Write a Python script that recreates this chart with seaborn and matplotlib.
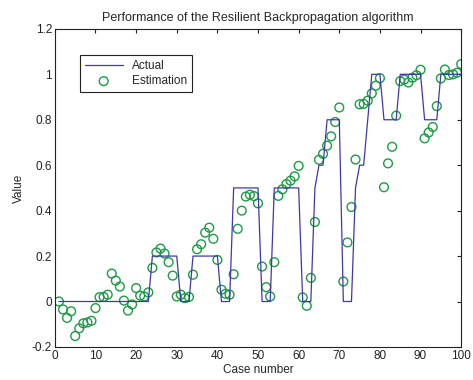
import numpy as np
import pandas as pd
import seaborn as sns
import matplotlib
matplotlib.use("Agg")
import matplotlib.pyplot as plt

# case numbers 1..100
case = list(range(1, 101))

# actual (target) values, step pattern
actual = ([0.0] * 23 + [0.2] * 7 + [0.0] * 3 + [0.2] * 7 + [0.0] * 3 +
          [0.5] * 7 + [0.0] * 3 + [0.5] * 7 + [0.0] * 3 +
          [0.5, 0.6, 0.6, 0.8, 0.8, 0.8, 0.8, 0.0, 0.0, 0.0,
           0.5, 0.6, 0.6, 0.8, 1.0, 1.0, 1.0, 0.8, 0.8, 0.8,
           0.8, 1.0, 1.0, 1.0, 1.0, 1.0, 1.0, 0.8, 0.8, 0.8,
           0.8, 1.0, 1.0, 1.0, 1.0, 1.0, 1.0])

# network estimations
estimation = [
    0.0, -0.035, -0.072, -0.043, -0.152, -0.118, -0.096, -0.092, -0.085, -0.029,
    0.019, 0.02, 0.03, 0.123, 0.092, 0.066, 0.004, -0.04, -0.013, 0.059,
    0.026, 0.022, 0.04, 0.148, 0.216, 0.233, 0.211, 0.173, 0.114, 0.022,
    0.03, 0.015, 0.02, 0.118, 0.23, 0.252, 0.303, 0.325, 0.276, 0.183,
    0.052, 0.034, 0.03, 0.12, 0.32, 0.4, 0.462, 0.47, 0.464, 0.432,
    0.154, 0.063, 0.022, 0.173, 0.465, 0.494, 0.517, 0.532, 0.551, 0.597,
    0.018, -0.019, 0.104, 0.35, 0.624, 0.65, 0.686, 0.727, 0.79, 0.854,
    0.088, 0.26, 0.416, 0.625, 0.868, 0.87, 0.884, 0.916, 0.95, 0.983,
    0.503, 0.608, 0.681, 0.818, 0.97, 0.977, 0.964, 0.985, 0.996, 1.02,
    0.718, 0.744, 0.768, 0.86, 0.982, 1.021, 0.997, 1.0, 1.007, 1.045,
]

xticks = list(range(0, 101, 10))
yticks = [-0.2, 0, 0.2, 0.4, 0.6, 0.8, 1.0, 1.2]
ylabels = ["-0.2", "0", "0.2", "0.4", "0.6", "0.8", "1", "1.2"]

df = pd.DataFrame({"case": case, "actual": actual, "estimation": estimation})

sns.set_style("white")
plt.rcParams["font.family"] = ["Liberation Sans", "DejaVu Sans"]

fig, ax = plt.subplots(figsize=(4.73, 3.80), dpi=100)
fig.subplots_adjust(left=0.116, right=0.975, top=0.924, bottom=0.087)

sns.lineplot(data=df, x="case", y="actual", ax=ax, color="#3f38a8",
             linewidth=0.9, label="Actual")
sns.scatterplot(data=df, x="case", y="estimation", ax=ax, marker="o",
                color="#1e9b45", facecolors="none", edgecolor="#1e9b45",
                linewidth=1.0, s=40, label="Estimation")

ax.set_xlim(0, 100)
ax.set_ylim(-0.2, 1.2)
ax.set_xticks(xticks)
ax.set_yticks(yticks)
ax.set_yticklabels(ylabels)
ax.tick_params(direction="in", top=True, right=True, length=3, width=0.8,
               labelsize=8.5, colors="#222222", pad=2)
for sp in ax.spines.values():
    sp.set_color("#222222")
    sp.set_linewidth(0.8)

ax.set_xlabel("Case number", fontsize=8.5, labelpad=1.5)
ax.set_ylabel("Value", fontsize=8.5, labelpad=5)
ax.set_title("Performance of the Resilient Backpropagation algorithm",
             fontsize=9, pad=6)

leg = ax.legend(loc="upper left", bbox_to_anchor=(0.062, 0.918),
                borderaxespad=0, fancybox=False, framealpha=1,
                edgecolor="#222222", fontsize=8.5, handlelength=3.2,
                borderpad=0.4, labelspacing=0.3)
leg.get_frame().set_linewidth(0.8)

fig.savefig("out.png", dpi=100)
